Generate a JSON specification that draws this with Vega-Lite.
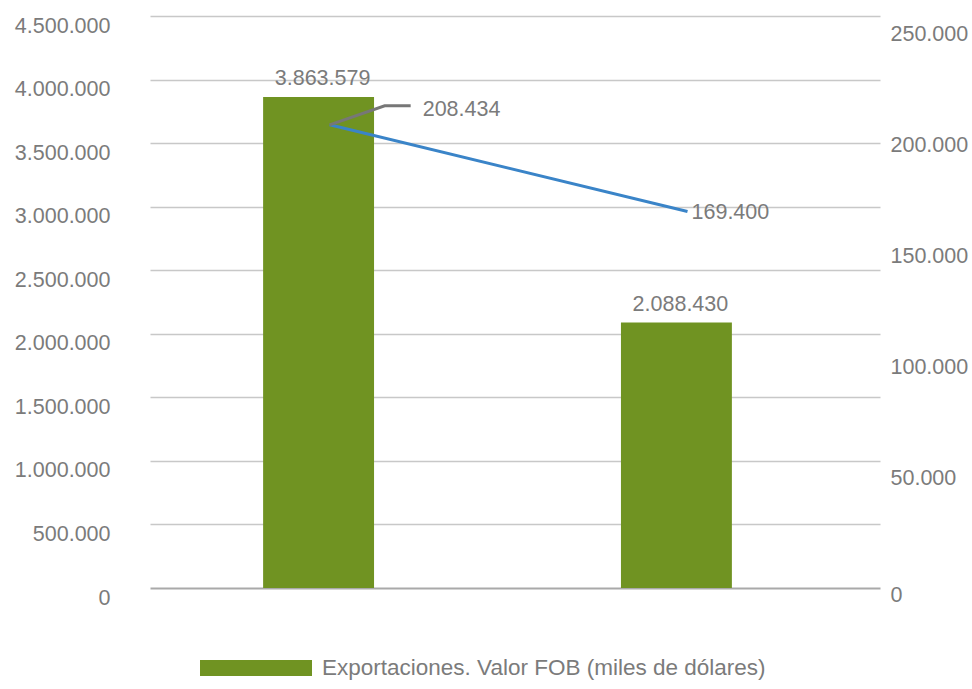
{
  "$schema": "https://vega.github.io/schema/vega-lite/v6.json",
  "autosize": "none",
  "width": 730,
  "height": 572,
  "padding": {"left": 150, "top": 16, "right": 92, "bottom": 101},
  "background": "white",
  "config": {
    "locale": {"number": {"decimal": ",", "thousands": ".", "grouping": [3], "currency": ["$", ""]}},
    "font": "Liberation Sans",
    "view": {"stroke": null},
    "axis": {"labelFont": "Liberation Sans", "labelFontSize": 21.5, "labelColor": "#7b7b7b", "domain": false, "ticks": false, "title": null},
    "legend": {"labelFont": "Liberation Sans", "labelFontSize": 22.5, "labelColor": "#7b7b7b"}
  },
  "data": {"values": [
    {"periodo": "Periodo 1", "exportaciones": 3863579, "serie2": 208434},
    {"periodo": "Periodo 2", "exportaciones": 2088430, "serie2": 169400}
  ]},
  "encoding": {
    "x": {"field": "periodo", "type": "nominal", "axis": null,
      "scale": {"paddingInner": 0.69, "paddingOuter": 0.365, "align": 0.433}}
  },
  "layer": [
    {
      "encoding": {
        "y": {"field": "exportaciones", "type": "quantitative",
          "scale": {"domain": [0, 4500000], "nice": false},
          "axis": {"orient": "left", "values": [0, 500000, 1000000, 1500000, 2000000, 2500000, 3000000, 3500000, 4000000, 4500000],
            "format": ",d", "labelPadding": 40, "labelOffset": 10, "grid": true,
            "gridColor": {"condition": {"test": "datum.value === 0", "value": "#a9a9a9"}, "value": "#c8c8c8"},
            "gridWidth": {"condition": {"test": "datum.value === 0", "value": 2}, "value": 1.5}}}
      },
      "layer": [
        {
          "mark": {"type": "bar"},
          "encoding": {
            "color": {"datum": "Exportaciones. Valor FOB (miles de dólares)", "type": "nominal",
              "scale": {"range": ["#709322"]},
              "legend": {"title": null, "orient": "none", "legendX": 50, "legendY": 596, "padding": 0,
                "symbolType": "M-1,-0.143H1V0.143H-1Z", "symbolSize": 12544, "symbolStrokeWidth": 0,
                "labelOffset": 10, "labelLimit": 700}}
          }
        },
        {
          "mark": {"type": "text", "baseline": "alphabetic", "align": "center", "dy": -12, "dx": 4,
            "font": "Liberation Sans", "fontSize": 21.5, "color": "#7b7b7b"},
          "encoding": {"text": {"field": "exportaciones", "type": "quantitative", "format": ",d"}}
        }
      ]
    },
    {
      "encoding": {
        "x": {"field": "periodo", "type": "nominal", "bandPosition": 0.6},
        "y": {"field": "serie2", "type": "quantitative",
          "scale": {"domain": [0, 257400], "nice": false},
          "axis": {"orient": "right", "values": [0, 50000, 100000, 150000, 200000, 250000],
            "format": ",d", "labelPadding": 10,
            "labelOffset": {"condition": {"test": "datum.value === 0", "value": 7}, "value": 2},
            "grid": false}}
      },
      "layer": [
        {
          "mark": {"type": "line", "color": "#3a84c8", "strokeWidth": 3}
        },
        {
          "transform": [{"filter": "datum.periodo === 'Periodo 1'"}],
          "mark": {"type": "point", "shape": "M0,0L55,-19L81,-19", "size": 4, "filled": false,
            "stroke": "#777777", "strokeWidth": 3, "opacity": 1, "strokeCap": "butt"}
        },
        {
          "transform": [{"filter": "datum.periodo === 'Periodo 1'"}],
          "mark": {"type": "text", "baseline": "middle", "align": "left", "dx": 93, "dy": -15,
            "font": "Liberation Sans", "fontSize": 21.5, "color": "#7b7b7b"},
          "encoding": {"text": {"field": "serie2", "type": "quantitative", "format": ",d"}}
        },
        {
          "transform": [{"filter": "datum.periodo === 'Periodo 2'"}],
          "mark": {"type": "text", "baseline": "middle", "align": "left", "dx": 4, "dy": 1,
            "font": "Liberation Sans", "fontSize": 21.5, "color": "#7b7b7b"},
          "encoding": {"text": {"field": "serie2", "type": "quantitative", "format": ",d"}}
        }
      ]
    }
  ],
  "resolve": {"scale": {"y": "independent"}}
}
